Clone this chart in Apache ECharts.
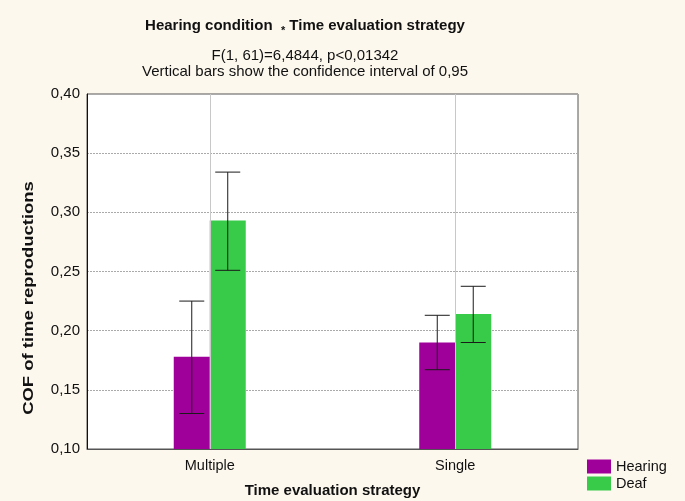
<!DOCTYPE html>
<html><head><meta charset="utf-8">
<script src="https://cdn.jsdelivr.net/npm/echarts@6/dist/echarts.min.js"></script>
<style>html,body{margin:0;padding:0;background:#FDF8EE}#c{width:685px;height:501px}</style>
</head><body><div id="c"></div>
<script>
const categories = ['Multiple', 'Single'];
const hearingMean = [0.178, 0.190];
const hearingLow = [0.130, 0.167];
const hearingHigh = [0.225, 0.213];
const deafMean = [0.293, 0.214];
const deafLow = [0.251, 0.190];
const deafHigh = [0.334, 0.2375];
const yTicks = { min: 0.10, max: 0.40, step: 0.05 };

const FONT = 'Liberation Sans, Arial, sans-serif';
const chart = echarts.init(document.getElementById('c'));

function errSeries(name, low, high, side) {
  return {
    type: 'custom', name: name + ' CI', z: 5, silent: true,
    data: categories.map((c, i) => [i, low[i], high[i]]),
    renderItem: function (params, api) {
      const i = api.value(0);
      const p1 = api.coord([i, api.value(1)]);
      const p2 = api.coord([i, api.value(2)]);
      const bw = api.size([1, 0])[0] * 0.1466;
      const x = p1[0] + side * bw / 2;
      const cap = 12.5;
      const st = { stroke: '#1a1a1a', lineWidth: 1 };
      return { type: 'group', children: [
        { type: 'line', shape: { x1: x, y1: p1[1], x2: x, y2: p2[1] }, style: st },
        { type: 'line', shape: { x1: x - cap, y1: p1[1], x2: x + cap, y2: p1[1] }, style: st },
        { type: 'line', shape: { x1: x - cap, y1: p2[1], x2: x + cap, y2: p2[1] }, style: st }
      ]};
    }
  };
}

chart.setOption({
  backgroundColor: '#FDF8EE',
  animation: false,
  textStyle: { fontFamily: FONT },
  title: [
    { text: '{a|Hearing condition  }{s|*}{a| Time evaluation strategy}', left: 300, top: 10, textAlign: 'center',
      textStyle: { rich: {
        a: { fontFamily: FONT, fontSize: 15, fontWeight: 'bold', color: '#111' },
        s: { fontFamily: FONT, fontSize: 11, fontWeight: 'bold', color: '#111', padding: [10, 0, 0, 0] } } } },
    { text: 'F(1, 61)=6,4844, p<0,01342\nVertical bars show the confidence interval of 0,95', left: 300, top: 43, textAlign: 'center',
      textStyle: { fontFamily: FONT, fontSize: 15, fontWeight: 'normal', color: '#111', lineHeight: 16 } }
  ],
  legend: {
    orient: 'vertical', left: 587, top: 459, padding: 0, itemWidth: 24, itemHeight: 14, itemGap: 2,
    icon: 'rect',
    data: ['Hearing', 'Deaf'],
    textStyle: { fontFamily: FONT, fontSize: 14.5, color: '#111' }
  },
  grid: { left: 87, top: 94, width: 491, height: 355, outerBoundsMode: 'none', containLabel: false,
    show: true, backgroundColor: '#fff', borderColor: '#555', borderWidth: 1 },
  xAxis: {
    type: 'category', data: categories,
    name: 'Time evaluation strategy', nameLocation: 'middle', nameGap: 34,
    nameTextStyle: { fontFamily: FONT, fontSize: 15, fontWeight: 'bold', color: '#111' },
    axisLine: { lineStyle: { color: '#555' } }, axisTick: { show: false },
    axisLabel: { fontFamily: FONT, fontSize: 14.5, color: '#111', margin: 9 },
    splitLine: { show: false }
  },
  yAxis: {
    type: 'value', min: yTicks.min, max: yTicks.max, interval: yTicks.step,
    axisLine: { show: true, lineStyle: { color: '#111' } }, axisTick: { show: false },
    axisLabel: { fontFamily: FONT, fontSize: 15, color: '#111', margin: 7,
      formatter: v => v.toFixed(2).replace('.', ',') },
    splitLine: { show: true, lineStyle: { color: '#aaa', type: [2, 1] } }
  },
  graphic: [{
    type: 'text', x: 29, y: 298, rotation: Math.PI / 2, scaleX: 1.23,
    style: { text: 'COF of time reproductions', font: 'bold 15px ' + FONT, fill: '#111',
      align: 'center', verticalAlign: 'middle', textAlign: 'center', textVerticalAlign: 'middle' }
  }],
  series: [
    { type: 'line', data: [], z: 1, silent: true,
      markLine: { silent: true, symbol: 'none', label: { show: false },
        lineStyle: { color: '#c8c8c8', type: 'solid', width: 1 },
        data: categories.map(c => ({ xAxis: c })) } },
    { name: 'Hearing', type: 'bar', data: hearingMean, barWidth: 36, barGap: '0%', z: 3,
      itemStyle: { color: '#A0009A' } },
    { name: 'Deaf', type: 'bar', data: deafMean, barWidth: 36, barGap: '0%', z: 3,
      itemStyle: { color: '#37CB49' } },
    errSeries('Hearing', hearingLow, hearingHigh, -1),
    errSeries('Deaf', deafLow, deafHigh, 1)
  ]
});
</script></body></html>
